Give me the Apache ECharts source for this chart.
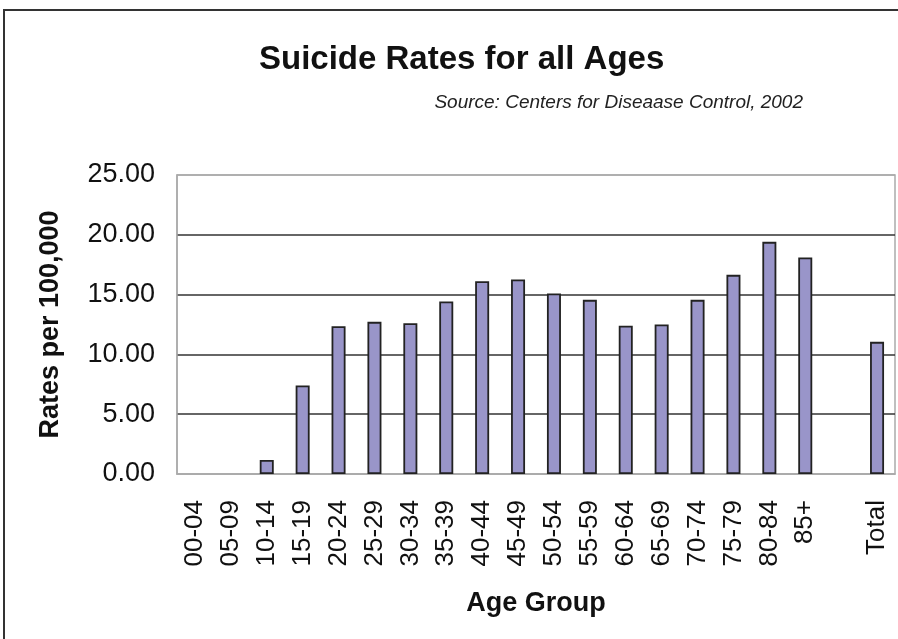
<!DOCTYPE html>
<html>
<head>
<meta charset="utf-8">
<script src="https://cdn.jsdelivr.net/npm/echarts@6/dist/echarts.min.js"></script>
<style>
  html, body { margin: 0; padding: 0; background: #fff; }
  #chart { width: 898px; height: 639px; }
</style>
</head>
<body>
<div id="chart"></div>
<script>
// Age groups (the empty slot separates the age groups from the overall total)
const ageGroups = ['00-04', '05-09', '10-14', '15-19', '20-24', '25-29', '30-34', '35-39',
  '40-44', '45-49', '50-54', '55-59', '60-64', '65-69', '70-74', '75-79', '80-84', '85+', '', 'Total'];

// Suicide rates per 100,000 population
const rates = [0, 0, 1.17, 7.40, 12.36, 12.72, 12.61, 14.42,
  16.12, 16.26, 15.09, 14.56, 12.39, 12.50, 14.56, 16.65, 19.41, 18.10, null, 11.05];

// Value axis ticks
const yTicks = [0, 5, 10, 15, 20, 25];

const FONT = '"Liberation Sans", Arial, sans-serif';
const chart = echarts.init(document.getElementById('chart'));

// Zero-rate groups get no outline, so nothing is drawn on the baseline
const barData = rates.map(v => (v === 0 ? { value: v, itemStyle: { borderWidth: 0 } } : v));

chart.setOption({
  animation: false,
  backgroundColor: '#fff',
  title: [
    {
      text: 'Suicide Rates for all Ages',
      left: 254, top: 38,
      textStyle: { fontFamily: FONT, fontSize: 33, fontWeight: 'bold', color: '#111' }
    },
    {
      text: 'Source: Centers for Diseaase Control, 2002',
      right: 90, top: 88,
      textStyle: { fontFamily: FONT, fontSize: 19, fontStyle: 'italic', fontWeight: 'normal', color: '#222' }
    }
  ],
  graphic: [
    {
      type: 'rect',
      shape: { x: 4, y: 10, width: 920, height: 660 },
      style: { fill: 'none', stroke: '#333', lineWidth: 2 },
      silent: true
    }
  ],
  grid: {
    left: 177, right: 3, top: 175, bottom: 165,
    show: true, borderColor: '#aaa', borderWidth: 1.5, backgroundColor: '#fff'
  },
  xAxis: {
    type: 'category',
    data: ageGroups,
    name: 'Age Group',
    nameLocation: 'middle',
    nameGap: 116,
    nameTextStyle: { fontFamily: FONT, fontSize: 27, fontWeight: 'bold', color: '#111' },
    axisLine: { lineStyle: { color: '#aaa', width: 1.5 } },
    axisTick: { show: false },
    axisLabel: {
      interval: 0, rotate: 90, margin: 26,
      fontFamily: FONT, fontSize: 26, color: '#111'
    },
    splitLine: { show: false }
  },
  yAxis: {
    type: 'value',
    min: yTicks[0], max: yTicks[yTicks.length - 1], interval: yTicks[1] - yTicks[0],
    name: 'Rates per 100,000',
    nameLocation: 'middle',
    nameRotate: 90,
    nameGap: 113,
    nameTextStyle: { fontFamily: FONT, fontSize: 27, fontWeight: 'bold', color: '#111' },
    axisLine: { show: true, lineStyle: { color: '#aaa', width: 1.5 } },
    axisTick: { show: false },
    axisLabel: {
      margin: 22,
      fontFamily: FONT, fontSize: 27, color: '#111',
      formatter: v => v.toFixed(2)
    },
    splitLine: {
      show: true,
      lineStyle: { color: ['#aaa', '#333', '#333', '#333', '#333', '#aaa'], width: 1.5 }
    }
  },
  series: [
    {
      type: 'bar',
      data: barData,
      barWidth: 14,
      itemStyle: { color: '#9995c9', borderColor: '#222', borderWidth: 1.8 }
    }
  ]
});
</script>
</body>
</html>
